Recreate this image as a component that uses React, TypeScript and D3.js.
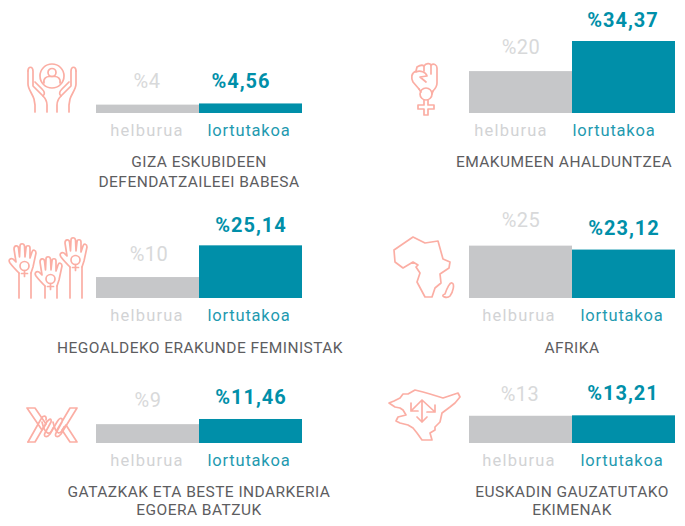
import React from "react";
import * as d3 from "d3";

const titles = [
  ["GIZA ESKUBIDEEN", "DEFENDATZAILEEI BABESA"],
  ["EMAKUMEEN AHALDUNTZEA"],
  ["HEGOALDEKO ERAKUNDE FEMINISTAK"],
  ["AFRIKA"],
  ["GATAZKAK ETA BESTE INDARKERIA", "EGOERA BATZUK"],
  ["EUSKADIN GAUZATUTAKO", "EKIMENAK"],
];
const targets = [4, 20, 10, 25, 9, 13];
const achieved = [4.56, 34.37, 25.14, 23.12, 11.46, 13.21];
const targetLabels = ["%4", "%20", "%10", "%25", "%9", "%13"];
const achievedLabels = ["%4,56", "%34,37", "%25,14", "%23,12", "%11,46", "%13,21"];
const seriesNames = ["helburua", "lortutakoa"];

// layout per panel: bar left, baseline, label centres, title centre
const layout = [
  { x: 96, base: 113, lx: [147, 249], tc: 199, ty: [167, 187], tv: [147, 241], tvy: [88, 88] },
  { x: 469, base: 113, lx: [511, 614], tc: 564, ty: [167], tv: [521, 623], tvy: [54, 27] },
  { x: 96, base: 298, lx: [147, 249], tc: 200, ty: [353], tv: [149, 251], tvy: [261, 232] },
  { x: 469, base: 298, lx: [519, 622], tc: 572, ty: [353], tv: [521, 624], tvy: [227, 235] },
  { x: 96, base: 443, lx: [147, 249], tc: 199, ty: [497, 515], tv: [148, 251], tvy: [407, 404] },
  { x: 469, base: 443, lx: [519, 622], tc: 572, ty: [497, 515], tv: [520, 623], tvy: [401, 400] },
];

const FONT = "'Roboto', 'Noto Sans', sans-serif";
const GREY = "#c6c7c9";
const TEAL = "#008fa9";
const PINK = "#fbaea4";

const height = d3.scaleLinear().domain([0, 34.37]).range([0, 72]);

const halfHands = (
  <g>
    <path d="M1 8 C1 3 6 3 6 8 L6 23 L16 33 C19 36 20 38 20 42 L20 49" />
    <path d="M1 8 L1 21 C1 26 5 30 7 36 L8 42 L8 49" />
    <path d="M8 19 L15 26 C18 29 18 31 16 33" />
  </g>
);

const Hands = () => (
  <g transform="translate(27,63)">
    <circle cx="25" cy="13" r="12" />
    <circle cx="25" cy="9.5" r="4" />
    <path d="M17 20 C16 15 20 13.5 22 13.5 L28 13.5 C30 13.5 34 15 33 20" />
    {halfHands}
    <g transform="translate(50,0) scale(-1,1)">{halfHands}</g>
  </g>
);

const Fist = () => (
  <g transform="translate(411,63)">
    <path d="M8 26 L2 19 C0 15 0 10 5 8 L6 4 C9 2 12 2 13 3 C15 0 19 0 20 2 C23 0 26 2 26 5 L26 20 C26 24 24 26 22 28" />
    <path d="M5 9 C9 7 15 9 16 13 L9 14 L15 19" />
    <path d="M13 3 L13 8 M20 2 L20 11" />
    <path d="M8 26 L10 29 M22 28 L21 31" />
    <circle cx="15" cy="31" r="6" />
    <path d="M13 37 L13 42 L7 42 L7 46 L13 46 L13 52 L17 52 L17 46 L23 46 L23 42 L17 42 L17 37" />
  </g>
);

const hand = (armLength: number) => (
  <g>
    <path d="M10 30 C7 27 4 24 1 20 C-1 17 1 15 4 16 L7 19 L5 6 C5 2 9 2 9.5 5 L10.5 14 L11 3 C11 0 15 0 15.5 3 L16 14 L17 5 C17 2 21 2 21 5 L21 15 L23 9 C24 6 27 7 27 10 L24 24 L22 30" />
    <circle cx="15.5" cy="23" r="4.5" />
    <path d="M15.5 27.5 L15.5 33.5 M12.5 30.5 L18.5 30.5" />
    <path d={`M10 30 L10 ${armLength} M22 30 L22 ${armLength}`} />
  </g>
);

const RaisedHands = () => (
  <g>
    <g transform="translate(9,243)">{hand(55)}</g>
    <g transform="translate(35,256)">{hand(42)}</g>
    <g transform="translate(60,237)">{hand(61)}</g>
  </g>
);

const Africa = () => (
  <g transform="translate(385,230)">
    <path d="M9 20 L28 7 L40 13 L53 11 L58 29 L65 32 L64 38 L55 44 L56 53 L50 58 L47 67 L40 67 L32 52 L35 43 L31 37 L33 35 L28 32 L18 38 L10 32 Z" />
    <path d="M60 64 C62 58 65 52 67 53 C70 54 68 62 65 66 C62 69 54 66 60 64 Z" />
  </g>
);

const Barbed = () => (
  <g transform="translate(10,395)">
    <path d="M17 13 L25 13 L36 29 L32 35 Z" />
    <path d="M18 47 L25 47 L35 30 C38 24 42 22 41 27 L35 38 C33 42 37 43 40 39 L47 27 C50 22 53 22 52 27 L46 38 C44 42 48 43 51 39 L67 13 L60 13 L47 35" />
    <path d="M18 47 L31 24 C33 20 37 20 36 25" />
    <path d="M32 27 C35 40 40 41 43 33 M43 27 C46 40 50 41 54 32" />
    <path d="M67 47 L60 47 L52 35 L56 30 Z" />
  </g>
);

const Basque = () => (
  <g transform="translate(380,380)">
    <path d="M9 23 L14 21 L20 18 L23 14 L28 14 L35 10 L43 12 L50 14 L63 18 L72 15 L78 13 L80 17 L75 23 L70 27 L62 33 L60 42 L55 47 L55 50 L50 53 L52 60 L42 60 L37 53 L33 48 L28 45 L20 43 L16 41 L18 37 L26 35 L23 30 L20 28 L15 27 Z" />
    <path d="M42 20 L42 42 M31 31 L42 20 L55 32 M31 23 L31 31 L38 31 M55 25 L55 32 L47 32 M37 37 L42 42 L47 37" />
  </g>
);

const icons = [Hands, Fist, RaisedHands, Africa, Barbed, Basque];

export default function App() {
  return (
    <svg width={685} height={526} style={{ position: "absolute", left: 0, top: 0, background: "#fff" }} fontFamily={FONT}>
      {layout.map((p, i) => {
        const Icon = icons[i];
        const x = d3.scaleBand<string>().domain(seriesNames).range([p.x, p.x + 206]);
        const series = [targets[i], achieved[i]];
        return (
          <g key={i}>
            <g fill="none" stroke={PINK} strokeWidth={1.7} strokeLinejoin="round" strokeLinecap="round">
              <Icon />
            </g>
            {seriesNames.map((n, j) => {
              const h = height(series[j]);
              return (
                <g key={n}>
                  <rect x={x(n)} y={p.base - h} width={x.bandwidth()} height={h} fill={j === 0 ? GREY : TEAL} />
                  <text x={p.lx[j]} y={p.base + 23} textAnchor="middle" fontSize={16.5} letterSpacing={j === 0 ? 1.2 : 0.8} fill={j === 0 ? "#d2d3d5" : "#1f9ab0"}>{n}</text>
                </g>
              );
            })}
            <text x={p.tv[0]} y={p.tvy[0]} textAnchor="middle" fontSize={20} letterSpacing={0.5} fill="#d8d9da">{targetLabels[i]}</text>
            <text x={p.tv[1]} y={p.tvy[1]} textAnchor="middle" fontSize={20} fontWeight={700} letterSpacing={1} fill={TEAL}>{achievedLabels[i]}</text>
            {titles[i].map((t, k) => (
              <text key={k} x={p.tc} y={p.ty[k]} textAnchor="middle" fontSize={15.5} letterSpacing={0.45} fill="#5d5d5f">{t}</text>
            ))}
          </g>
        );
      })}
    </svg>
  );
}
